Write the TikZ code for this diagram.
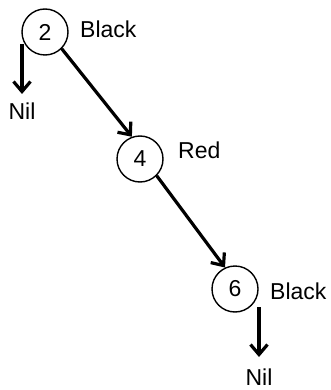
\documentclass[tikz,border=0pt]{standalone}
\usepackage{fontspec}
\setmainfont{Liberation Sans}
\usetikzlibrary{arrows.meta}
\begin{document}
\begin{tikzpicture}[x=1pt,y=-1pt,
  keynode/.style={circle,draw,line width=1.4pt,minimum size=46pt,inner sep=0pt,font=\fontsize{23}{26}\selectfont},
  lbl/.style={font=\fontsize{23}{26}\selectfont,inner sep=0pt},
  conn/.style={line width=3.2pt,-{Straight Barb[length=10pt,width=17pt,line width=3.2pt]}}]
\useasboundingbox (0,0) rectangle (331,390);
\node[keynode] (n2) at (45,32) {2};
\node[keynode] (n4) at (140,159) {4};
\node[keynode] (n6) at (235,289) {6};
\node[lbl,anchor=west] (b2) at (80,29) {Black};
\node[lbl,anchor=west] (r4) at (178,150) {Red};
\node[lbl,anchor=west] (b6) at (270,291) {Black};
\node[lbl] (nil1) at (22,111) {Nil};
\node[lbl] (nil2) at (259,377) {Nil};
\coordinate (a1) at (22,44);
\coordinate (a1e) at (22,94);
\coordinate (a2) at (259,307);
\coordinate (a2e) at (259,357);
\draw[conn] (a1) -- (a1e);
\draw[conn] (n2.-45) -- (n4.110);
\draw[conn] (n4.-45) -- (n6.115);
\draw[conn] (a2) -- (a2e);
\end{tikzpicture}
\end{document}
